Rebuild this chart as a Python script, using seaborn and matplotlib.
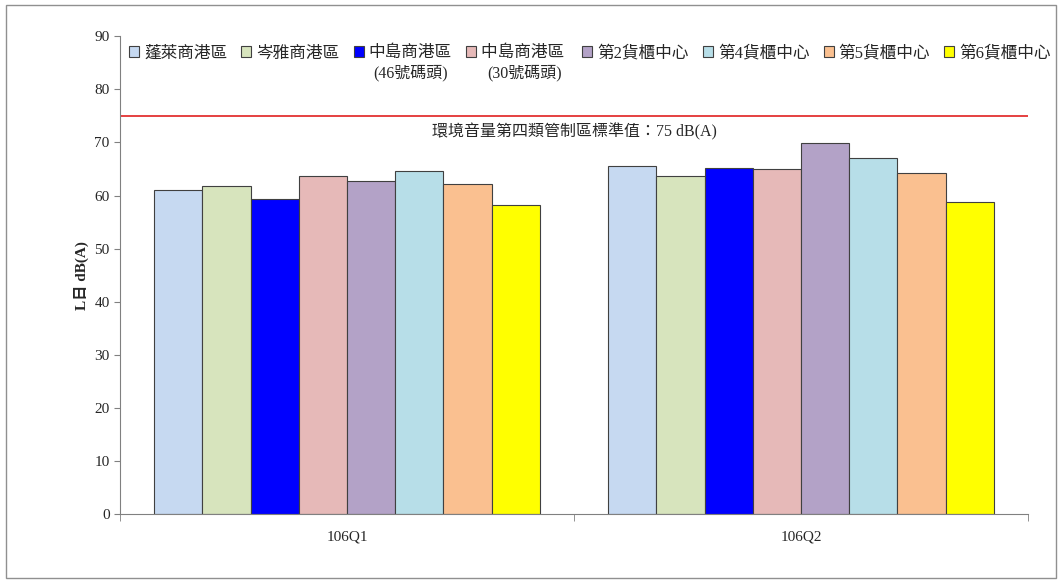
import matplotlib
matplotlib.use("Agg")
import matplotlib.pyplot as plt
import seaborn as sns
import pandas as pd
from matplotlib.patches import Rectangle

quarters = ["106Q1", "106Q2"]
stations = ["蓬萊商港區", "岑雅商港區", "中島商港區", "中島商港區 ",
            "第2貨櫃中心", "第4貨櫃中心", "第5貨櫃中心", "第6貨櫃中心"]
sub_labels = {2: "(46號碼頭)", 3: "(30號碼頭)"}
q1_values = [61.0, 61.8, 59.3, 63.7, 62.7, 64.6, 62.1, 58.2]
q2_values = [65.5, 63.7, 65.2, 65.0, 69.9, 67.0, 64.2, 58.8]
limit_value = 75
limit_label = "環境音量第四類管制區標準值：75 dB(A)"
colors = ["#C6D9F1", "#D7E4BD", "#0000FF", "#E6B9B8",
          "#B3A2C7", "#B7DEE8", "#FAC090", "#FFFF00"]

rows = []
for q, vals in zip(quarters, [q1_values, q2_values]):
    for s, v in zip(stations, vals):
        rows.append({"quarter": q, "station": s, "value": v})
df = pd.DataFrame(rows)

sns.set_style("white")
plt.rcParams["font.family"] = ["Liberation Serif", "Noto Sans CJK TC", "DejaVu Sans"]

fig = plt.figure(figsize=(10.62, 5.85), dpi=100)
ax = fig.add_axes([0.113, 0.121, 0.855, 0.817])

sns.barplot(data=df, x="quarter", y="value", hue="station", hue_order=stations,
            palette=colors, width=0.85, edgecolor="#404040", linewidth=0.8,
            saturation=1, ax=ax, legend=True)

ax.axhline(limit_value, color="#E02020", linewidth=1.2)
ax.text(0.5, 72.0, limit_label, ha="center", va="center", fontsize=11.5)

ax.set_ylim(0, 90)
ax.set_xlim(-0.5, 1.5)
ax.set_yticks(range(0, 91, 10))
ax.set_xlabel("")
ax.set_ylabel("L日 dB(A)", fontsize=11, fontweight="bold")
ax.tick_params(axis="y", labelsize=11, left=True, length=4, color="#808080")
ax.tick_params(axis="x", which="major", labelsize=11, bottom=False, pad=8)
ax.set_xticks([-0.5, 0.5, 1.5], minor=True)
ax.tick_params(axis="x", which="minor", bottom=True, length=5, color="#808080")
for side in ["top", "right"]:
    ax.spines[side].set_visible(False)
for side in ["left", "bottom"]:
    ax.spines[side].set_color("#808080")

leg = ax.legend(loc="upper left", bbox_to_anchor=(0.0, 1.0), ncol=8, frameon=False,
                fontsize=12, handlelength=0.6, handleheight=0.6, handletextpad=0.3,
                columnspacing=0.85, borderaxespad=0.15)
for h in leg.legend_handles:
    h.set_edgecolor("#404040")
    h.set_linewidth(0.8)

fig.canvas.draw()
inv = fig.transFigure.inverted()
for i, lab in sub_labels.items():
    bb = leg.get_texts()[i].get_window_extent()
    (x0, y0), (x1, y1) = inv.transform([[bb.x0, bb.y0], [bb.x1, bb.y1]])
    fig.text((x0 + x1) / 2, y0 - 0.006, lab, ha="center", va="top", fontsize=11.5)

fig.patches.append(Rectangle((0.006, 0.012), 0.988, 0.98, transform=fig.transFigure,
                             fill=False, edgecolor="#909090", linewidth=1.0))

fig.savefig("out.png", dpi=100)
